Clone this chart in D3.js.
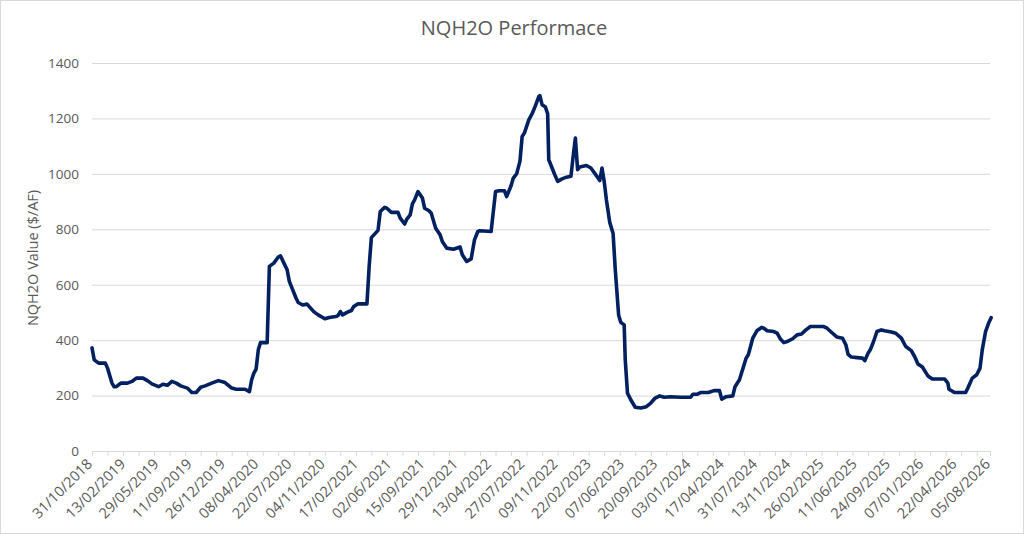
<!DOCTYPE html>
<html>
<head>
<meta charset="utf-8">
<script src="https://cdn.jsdelivr.net/npm/d3@7"></script>
<style>
	html, body { margin: 0; padding: 0; background: #fff; }
	svg { display: block; font-family: 'Open Sans', sans-serif; }
</style>
</head>
<body>
<div id="chart"></div>
<script>
// ----------------------------- DATA --------------------------------
// weeks since 31/10/2018 and NQH2O value ($/AF)
const weeks = [
	0, 1, 3, 6, 7, 9, 10, 11, 13, 16, 18, 20, 23, 25, 27, 30, 32, 34, 36, 38,
	40, 43, 45, 47, 49, 51, 54, 57, 60, 63, 65, 69, 71, 72, 73, 74, 75, 76, 79, 80,
	82, 84, 85, 88, 89, 92, 93, 95, 97, 98, 100, 102, 105, 107, 110, 111, 112, 113, 115, 117,
	118, 120, 124, 125, 126, 129, 130, 132, 133, 135, 138, 139, 141, 142, 143.5, 144.5, 145.5, 147, 148, 149,
	150, 152, 153, 155, 157, 158, 160, 163, 166, 167, 169, 171, 172.5, 174, 175, 180, 182, 183.5, 186, 187,
	189, 190, 191.5, 193, 194, 195, 197, 198.5, 200, 201.5, 202, 203, 204.5, 205.5, 206, 207.5, 209, 210, 212, 214,
	216, 217, 218, 219, 220, 223, 225, 227, 229, 230, 231, 232, 233.5, 235, 236, 237.5, 238.5, 240, 240.5, 241.5,
	243, 245, 247.5, 250, 252, 254, 256, 258, 261, 265.5, 270, 271, 273, 274.5, 278, 280.5, 283, 284, 286, 289,
	290, 292, 295, 296, 298, 300, 302, 303, 304.5, 307.5, 309, 310.5, 312, 313.5, 316, 318, 320, 322, 324, 330,
	331.5, 334, 336, 338.5, 340, 341, 342.5, 345, 347.5, 348.5, 350, 351, 352.5, 354, 356, 357.5, 360.5, 362.5, 365, 367,
	369.5, 371, 372.5, 374.5, 377, 379, 384.5, 386, 386.5, 389, 394, 395, 397, 399, 400.5, 401.5, 403, 404.5, 405.5
];
const values = [
	372, 329, 317, 317, 299, 245, 232, 232, 245, 245, 251, 263, 263, 254, 242, 232, 241, 237, 251, 245,
	235, 227, 211, 211, 230, 235, 245, 254, 247, 227, 223, 223, 214, 257, 281, 295, 365, 391, 391, 666,
	678, 700, 704, 654, 612, 552, 536, 527, 530, 521, 503, 491, 477, 482, 485, 489, 503, 491, 500, 507,
	521, 531, 531, 666, 770, 796, 864, 879, 876, 861, 861, 840, 819, 837, 852, 892, 906, 936, 925, 913,
	876, 867, 858, 804, 780, 756, 732, 728, 736, 708, 684, 693, 762, 792, 795, 792, 936, 939, 939, 918,
	957, 985, 1000, 1045, 1135, 1147, 1195, 1217, 1246, 1279, 1282, 1249, 1241, 1217, 1051, 1021, 991, 973, 982, 988,
	991, 1063, 1129, 1015, 1025, 1030, 1021, 999, 976, 1021, 973, 906, 825, 786, 654, 491, 464, 455, 329, 209,
	185, 158, 155, 160, 173, 191, 199, 194, 196, 194, 194, 205, 205, 211, 211, 218, 218, 187, 196, 199,
	232, 257, 335, 347, 407, 435, 446, 443, 434, 431, 425, 404, 391, 395, 405, 419, 422, 437, 449, 449,
	443, 425, 411, 407, 383, 349, 339, 337, 335, 326, 353, 365, 395, 431, 437, 434, 429, 425, 407, 377,
	362, 341, 314, 303, 271, 260, 260, 245, 223, 211, 211, 227, 263, 275, 299, 365, 431, 464, 481
];

const tickLabels = [
	'31/10/2018', '13/02/2019', '29/05/2019', '11/09/2019', '26/12/2019', '08/04/2020', '22/07/2020',
	'04/11/2020', '17/02/2021', '02/06/2021', '15/09/2021', '29/12/2021', '13/04/2022', '27/07/2022',
	'09/11/2022', '22/02/2023', '07/06/2023', '20/09/2023', '03/01/2024', '17/04/2024', '31/07/2024',
	'13/11/2024', '26/02/2025', '11/06/2025', '24/09/2025', '07/01/2026', '22/04/2026', '05/08/2026'
];
const labelEvery = 15; // weeks between labels
const tickEvery = 7; // weeks between tick marks
const lastWeek = 405;
const yTicks = [0, 200, 400, 600, 800, 1000, 1200, 1400];

const title = 'NQH2O Performace';
const yTitle = 'NQH2O Value ($/AF)';

// ----------------------------- SVG --------------------------------
const W = 1024, H = 534;
const margin = { left: 92, right: 34, top: 63, bottom: 83 };
const textColor = '#595959';
const gridColor = '#d9d9d9';
const lineColor = '#002060';

const svg = d3.select('#chart').append('svg').attr('width', W).attr('height', H);

svg.append('rect')
	.attr('x', 0.5).attr('y', 0.5)
	.attr('width', W - 1).attr('height', H - 1)
	.attr('fill', '#fff').attr('stroke', gridColor);

const x = d3.scaleLinear().domain([0, lastWeek]).range([margin.left, W - margin.right]);
const y = d3.scaleLinear().domain([0, 1400]).range([H - margin.bottom, margin.top]);

// gridlines + y labels
const yAxis = d3.axisLeft(y)
	.tickValues(yTicks)
	.tickFormat(d3.format('d'))
	.tickSize(-(x.range()[1] - x.range()[0]))
	.tickPadding(13);
svg.append('g')
	.attr('transform', `translate(${margin.left},0)`)
	.call(yAxis)
	.call((g) => g.select('.domain').remove())
	.call((g) => g.selectAll('.tick line').attr('stroke', gridColor).attr('stroke-width', 1))
	.call((g) => g.selectAll('.tick text').attr('fill', textColor).attr('font-size', 13.5).attr('font-family', 'Open Sans'));

// x axis: tick marks every 7 weeks, labels every 15 weeks
const tickWeeks = d3.range(0, lastWeek, tickEvery).concat([lastWeek]);
const xAxis = d3.axisBottom(x).tickValues(tickWeeks).tickSize(5).tickFormat('');
svg.append('g')
	.attr('transform', `translate(0,${y(0)})`)
	.call(xAxis)
	.call((g) => g.select('.domain').attr('stroke', gridColor).attr('d', `M${x(0)},0.5H${x(lastWeek)}`))
	.call((g) => g.selectAll('.tick line').attr('stroke', gridColor));

svg.append('g')
	.selectAll('text')
	.data(tickLabels)
	.join('text')
	.attr('transform', (d, i) => `translate(${x(i * labelEvery) + 1},${y(0) + 14}) rotate(-45)`)
	.attr('text-anchor', 'end')
	.attr('fill', textColor)
	.attr('font-size', 14.5)
	.text((d) => d);

// line
const points = weeks.map((w, i) => [w, values[i]]);
const line = d3.line().x((d) => x(d[0])).y((d) => y(d[1]));
svg.append('path')
	.datum(points)
	.attr('d', line)
	.attr('fill', 'none')
	.attr('stroke', lineColor)
	.attr('stroke-width', 3.6)
	.attr('stroke-linejoin', 'round')
	.attr('stroke-linecap', 'round');

// titles
svg.append('text')
	.attr('x', W / 2 + 2)
	.attr('y', 35)
	.attr('text-anchor', 'middle')
	.attr('fill', textColor)
	.attr('font-size', 20)
	.text(title);

svg.append('text')
	.attr('transform', `translate(38,258) rotate(-90)`)
	.attr('text-anchor', 'middle')
	.attr('fill', textColor)
	.attr('font-size', 14.5)
	.text(yTitle);
</script>
</body>
</html>
